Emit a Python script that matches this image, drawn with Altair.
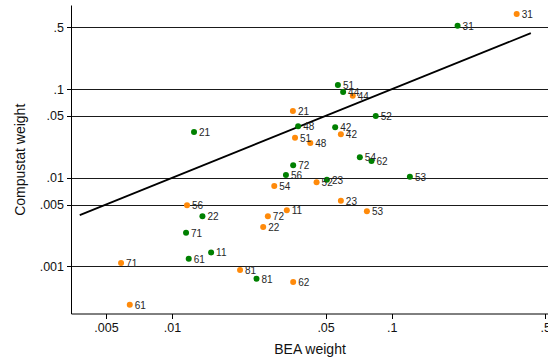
import altair as alt
import pandas as pd

# Industry codes with their BEA and Compustat weights, two groups
codes_green = ["31", "51", "44", "52", "48", "42", "21", "54", "62", "72",
               "56", "23", "53", "22", "71", "11", "61", "81"]
bea_green = [0.1995, 0.0569, 0.0601, 0.0846, 0.0375, 0.0553, 0.01259, 0.0716, 0.0809, 0.0356,
             0.0330, 0.0507, 0.1210, 0.01375, 0.01158, 0.01506, 0.01191, 0.02424]
comp_green = [0.522, 0.1118, 0.0932, 0.0499, 0.0382, 0.0372, 0.0330, 0.0171, 0.01549, 0.01386,
              0.01076, 0.00953, 0.0103, 0.00368, 0.00240, 0.00144, 0.00122, 0.000726]

codes_orange = ["31", "44", "21", "42", "51", "48", "54", "52", "23", "11",
                "53", "56", "72", "22", "81", "62", "71", "61"]
bea_orange = [0.3707, 0.0665, 0.0355, 0.0587, 0.0363, 0.0426, 0.0292, 0.0455, 0.0587, 0.0333,
              0.0771, 0.01170, 0.0273, 0.0260, 0.0204, 0.0356, 0.00586, 0.00642]
comp_orange = [0.708, 0.0847, 0.0569, 0.0310, 0.0284, 0.0248, 0.00809, 0.00891, 0.00552, 0.00430,
               0.00419, 0.00490, 0.00368, 0.00279, 0.000910, 0.000667, 0.00109, 0.000369]

# 45-degree reference line endpoints
diag_ends = [0.0038, 0.43]

x_ticks = [0.005, 0.01, 0.05, 0.1, 0.5]
y_ticks = [0.001, 0.005, 0.01, 0.05, 0.1, 0.5]

points = pd.concat([
    pd.DataFrame({"code": codes_green, "bea": bea_green, "comp": comp_green, "group": "green"}),
    pd.DataFrame({"code": codes_orange, "bea": bea_orange, "comp": comp_orange, "group": "orange"}),
])
diag = pd.DataFrame({"bea": diag_ends, "comp": diag_ends})

font = "Liberation Sans"
strip_zero = "substring(toString(datum.value), 1)"

x_scale = alt.Scale(type="log", domain=[0.003467, 0.5148], nice=False)
y_scale = alt.Scale(type="log", domain=[0.000294, 0.895], nice=False)

x_enc = alt.X("bea:Q", scale=x_scale, title="BEA weight",
              axis=alt.Axis(values=x_ticks, labelExpr=strip_zero, grid=False,
                            labelFlush=False, labelOverlap=False,
                            tickSize=5, labelPadding=3, titlePadding=8))
y_enc = alt.Y("comp:Q", scale=y_scale, title="Compustat weight",
              axis=alt.Axis(values=y_ticks, labelExpr=strip_zero, grid=True,
                            gridColor="#1a1a1a", gridWidth=1, gridOpacity=1,
                            labelOverlap=False, labelFlush=False,
                            tickSize=4.5, labelPadding=3, titlePadding=12))

line = alt.Chart(diag).mark_line(color="black", strokeWidth=1.8).encode(x=x_enc, y=y_enc)

dots = alt.Chart(points).mark_circle(size=36, opacity=1).encode(
    x=x_enc, y=y_enc,
    color=alt.Color("group:N", legend=None,
                    scale=alt.Scale(domain=["green", "orange"], range=["#008000", "#FF8A0A"])),
)

labels = alt.Chart(points).mark_text(
    align="left", baseline="middle", dx=5, dy=1, fontSize=10, font=font, color="#262626"
).encode(x=x_enc, y=y_enc, text="code:N")

chart = (
    alt.layer(line, dots, labels)
    .properties(width=477, height=308.5,
                autosize=alt.AutoSizeParams(type="none"),
                padding={"left": 71, "top": 5, "right": 0, "bottom": 46.5})
    .configure_view(stroke=None)
    .configure_axis(domainColor="black", domainWidth=1, tickColor="black", tickWidth=1,
                    labelFont=font, labelFontSize=12.5, labelColor="#111111",
                    titleFont=font, titleFontSize=14, titleFontWeight="normal", titleColor="#111111")
)

chart.save("out.html", embed_options={"renderer": "svg", "actions": False})
